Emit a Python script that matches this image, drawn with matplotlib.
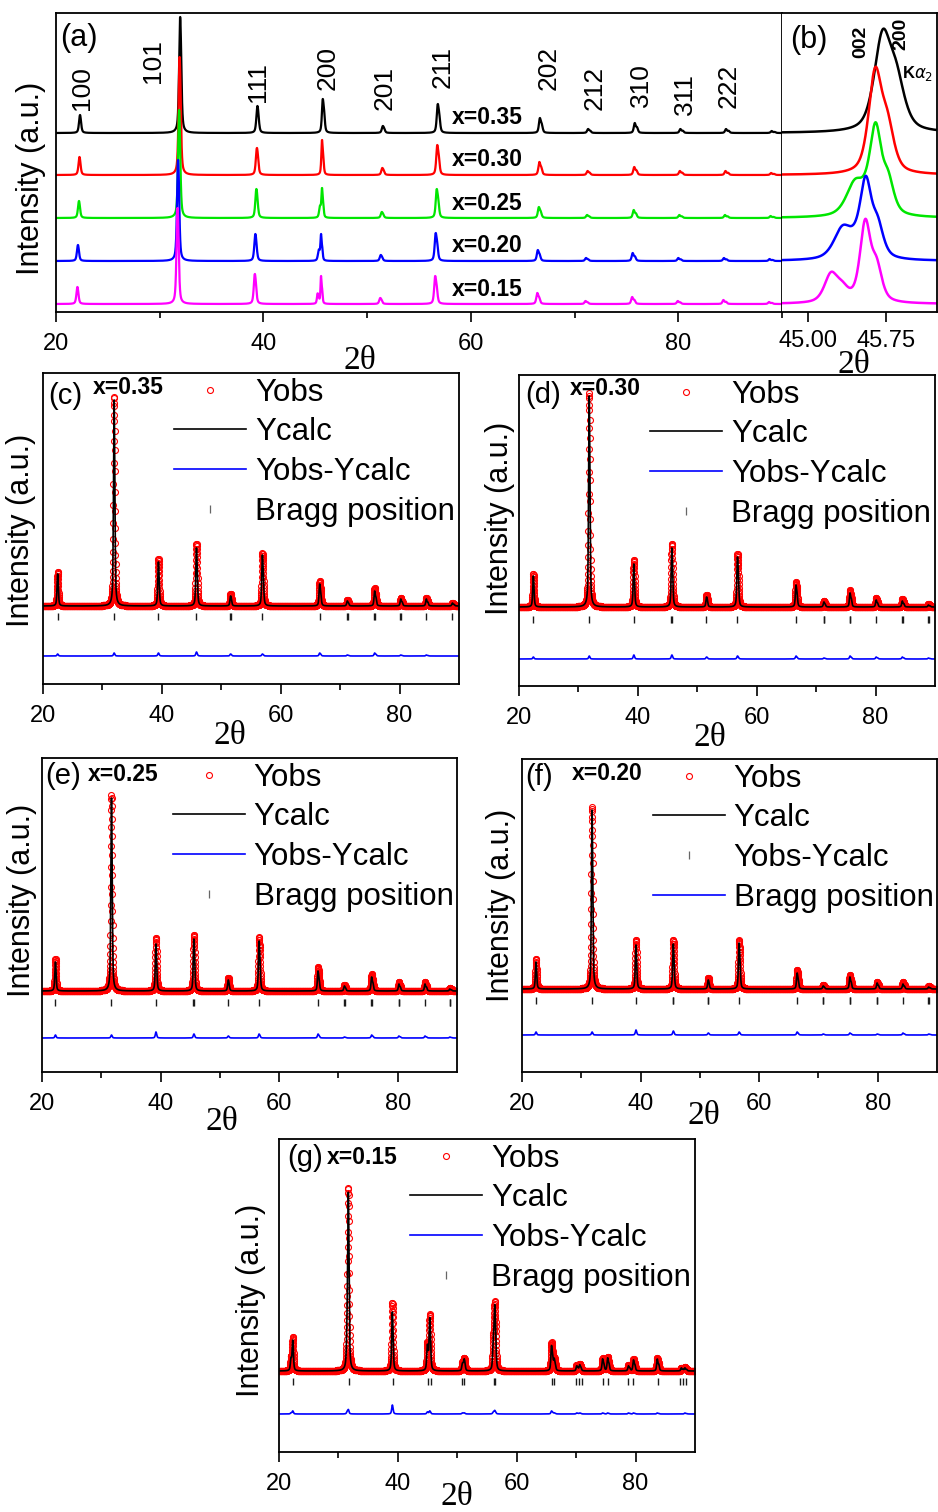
import numpy as np
import matplotlib.pyplot as plt
from matplotlib.lines import Line2D
from matplotlib.ticker import FixedLocator, FormatStrFormatter

plt.rcParams['font.family'] = ['Liberation Sans', 'DejaVu Sans']
plt.rcParams['mathtext.fontset'] = 'dejavusans'

# ---------------- data ----------------
compositions = ['x=0.35', 'x=0.30', 'x=0.25', 'x=0.20', 'x=0.15']
colors = ['black', 'red', '#00e600', 'blue', 'magenta']

# (a) full patterns: reflections and apparent peak heights of each composition
hkl = ['100', '101', '111', '200', '201', '211', '202', '212', '310', '311', '222']
two_theta = [22.3, 31.95, 39.4, 45.7, 51.5, 56.8, 66.65, 71.3, 75.8, 80.2, 84.6, 89.0]
shift = [0.0, -0.05, -0.1, -0.2, -0.25]
h_a = [
    [18, 116, 27, 34, 7, 29, 15, 4, 10, 4, 4, 2],
    [18, 118, 27, 35, 7, 30, 13, 4, 8, 4, 4, 2],
    [17, 108, 29, 30, 6, 29, 11, 3, 8, 3, 3, 2],
    [16, 101, 27, 27, 6, 28, 11, 3, 8, 3, 3, 2],
    [17, 96, 30, 28, 6, 28, 11, 3, 7, 3, 4, 2],
]

# (b) the 002/200 region: component positions, heights and widths
b_pos = [
    [45.715, 45.85],
    [45.645, 45.765],
    [45.45, 45.57, 45.65, 45.77],
    [45.33, 45.45, 45.555, 45.67],
    [45.22, 45.33, 45.55, 45.66],
]
b_h = [
    [90, 45],
    [98, 42],
    [30, 10, 80, 32],
    [28, 10, 72, 30],
    [27, 12, 78, 33],
]
b_w = [
    [0.19, 0.19],
    [0.15, 0.15],
    [0.2, 0.2, 0.13, 0.13],
    [0.2, 0.2, 0.13, 0.13],
    [0.15, 0.15, 0.12, 0.12],
]

# (c)-(g) Rietveld refinements
pos_c = [22.45, 31.95, 39.4, 45.8, 51.55, 56.9, 66.55, 71.2, 75.8, 80.2, 84.5, 88.9]
obs_c = [34, 209, 47, 62, 12, 53, 25, 6, 18, 8, 8, 3]
calc_c = [32, 206, 44, 58, 10, 51, 22, 5, 15, 7, 7, 3]
bragg_c = [22.45, 31.95, 39.4, 45.8, 51.5, 51.6, 56.9, 66.55, 71.15, 71.25,
           75.75, 75.85, 80.15, 80.25, 84.5, 88.9]

pos_d = [22.4, 31.8, 39.3, 45.7, 51.55, 56.75, 66.6, 71.3, 75.7, 80.1, 84.5, 88.9]
obs_d = [33, 214, 47, 63, 12, 53, 25, 6, 17, 9, 8, 3]
calc_d = [31, 211, 43, 59, 10, 50, 22, 5, 14, 7, 6, 2]
bragg_d = [22.4, 31.8, 39.3, 45.65, 45.75, 51.55, 56.75, 66.6, 71.25, 71.35,
           75.65, 75.75, 80.1, 84.45, 84.6, 88.85, 88.95]

pos_e = [22.25, 31.7, 39.2, 45.6, 51.4, 56.6, 66.55, 71.0, 75.6, 80.2, 84.6, 88.8]
obs_e = [32, 196, 53, 56, 13, 54, 24, 6, 17, 9, 9, 3]
calc_e = [29, 193, 47, 52, 11, 50, 20, 5, 14, 7, 7, 2]
bragg_e = [22.25, 31.7, 39.2, 45.55, 45.65, 51.4, 56.6, 66.55, 70.95, 71.05,
           75.55, 75.65, 80.15, 80.25, 84.6, 88.75, 88.85]

pos_f = [22.35, 31.8, 39.2, 45.5, 51.4, 56.6, 66.4, 70.8, 75.3, 79.9, 84.25, 88.6]
obs_f = [30, 182, 49, 49, 11, 49, 19, 4, 14, 7, 7, 3]
calc_f = [27, 179, 44, 45, 9, 46, 16, 3, 12, 6, 5, 2]
bragg_f = [22.35, 31.8, 39.2, 45.45, 45.55, 51.35, 51.45, 56.6, 66.4, 70.75, 70.85,
           75.25, 75.35, 79.85, 79.95, 84.25, 88.55, 88.65]

pos_g = [22.0, 22.3, 31.45, 31.65, 39.05, 44.95, 45.35, 50.85, 51.15, 56.05, 56.3,
         65.85, 66.3, 70.1, 70.6, 74.45, 75.3, 78.8, 79.65, 83.65, 87.7, 88.3]
obs_g = [12, 33, 30, 175, 68, 26, 55, 8, 12, 28, 61, 28, 12, 6, 7, 13, 14, 6, 12, 13, 3, 4]
calc_g = [11, 30, 28, 171, 59, 24, 52, 7, 11, 26, 58, 25, 11, 5, 6, 12, 13, 5, 11, 12, 3, 3]
bragg_g = [22.3, 31.7, 39.1, 45.05, 45.6, 50.8, 51.2, 56.15, 56.4, 65.9, 66.3,
           70.0, 70.5, 71.0, 74.5, 75.4, 78.8, 79.65, 83.7, 87.5, 88.0, 88.5]


# ---------------- profiles ----------------
def pv(x, x0, fwhm, eta=0.55):
    u = (x - x0) / fwhm
    return eta / (1 + 4 * u ** 2) + (1 - eta) * np.exp(-4 * np.log(2) * u ** 2)


def cu_peak(x, x0, fwhm):
    # Ka1 + Ka2 doublet, scaled so the drawn maximum is 1
    th = np.radians(x0 / 2)
    x2 = 2 * np.degrees(np.arcsin(min(1.0, 1.00248 * np.sin(th))))
    p = pv(x, x0, fwhm) + 0.5 * pv(x, x2, fwhm)
    return p / p.max()


def pattern(x, pos, h, fwhm):
    y = np.zeros_like(x)
    for p, a in zip(pos, h):
        y += a * cu_peak(x, p, fwhm)
    return y


def zoom_profile(x, pos, h, w):
    y = np.zeros_like(x)
    for p, a, f in zip(pos, h, w):
        y += a * pv(x, p, f)
    return y


def rect(l, t, r, b):
    return [l / 938, 1 - b / 1512, (r - l) / 938, (b - t) / 1512]


def style_x(ax, major, minor, pad=8):
    ax.set_yticks([])
    ax.xaxis.set_major_locator(FixedLocator(major))
    ax.xaxis.set_minor_locator(FixedLocator(minor))
    ax.tick_params(axis='x', which='major', direction='out', length=7, width=1.2,
                   labelsize=17, pad=pad)
    ax.tick_params(axis='x', which='minor', direction='out', length=4.5, width=1.2)
    for s in ax.spines.values():
        s.set_linewidth(1.3)


def axis_labels(ax, xl, yl=None):
    ax.text(xl[0], xl[1], '2θ', transform=ax.transAxes, ha='center', va='center',
            fontsize=24, family=['Liberation Serif', 'DejaVu Serif'])
    if yl is not None:
        ax.text(yl[0], yl[1], 'Intensity (a.u.)', transform=ax.transAxes, rotation=90,
                ha='center', va='center', fontsize=22)


fig = plt.figure(figsize=(9.38, 15.12), dpi=100)

# ---------------- (a) and (b) ----------------
axa = fig.add_axes(rect(56, 13, 782, 312))
axb = fig.add_axes(rect(782, 13, 937, 312))
offsets = [179, 137, 94, 51, 8]
xa = np.arange(20, 90.001, 0.02)
xb = np.arange(44.7, 46.3, 0.004)
i200 = hkl.index('200')
for i in range(5):
    pos = [p + shift[i] for k, p in enumerate(two_theta) if k != i200]
    hh = [v for k, v in enumerate(h_a[i]) if k != i200]
    ya = pattern(xa, pos, hh, 0.22)
    zp = zoom_profile(xa, b_pos[i], b_h[i], b_w[i])
    ya += h_a[i][i200] * zp / zp.max()
    axa.plot(xa, ya + offsets[i], color=colors[i], lw=1.6)
    axb.plot(xb, zoom_profile(xb, b_pos[i], b_h[i], b_w[i]) + offsets[i],
             color=colors[i], lw=1.8)
    axa.text(58.2, offsets[i] + 15, compositions[i], fontsize=16.5, fontweight='bold',
             va='center', ha='left')

axa.set_xlim(20, 90)
axa.set_ylim(0, 299)
style_x(axa, [20, 40, 60, 80], [30, 50, 70])

lab_x = [22.5, 29.4, 39.5, 46.2, 51.7, 57.3, 67.5, 71.95, 76.4, 80.6, 84.9]
lab_y = [202, 229, 210, 222, 202, 224, 222, 202, 205, 197, 204]
for s, lx, ly in zip(hkl, lab_x, lab_y):
    axa.text(lx, ly, s, rotation=90, ha='center', va='bottom', fontsize=19)
axa.text(0.006, 0.916, '(a)', transform=axa.transAxes, fontsize=22, va='center')
axis_labels(axa, (0.419, -0.162), (-0.034, 0.448))

axb.set_xlim(44.75, 46.24)
axb.set_ylim(0, 299)
style_x(axb, [45.0, 45.75], [44.75], pad=6)
axb.xaxis.set_major_formatter(FormatStrFormatter('%.2f'))
axb.spines['left'].set_visible(False)
axb.text(0.05, 0.91, '(b)', transform=axb.transAxes, fontsize=22, va='center')
axb.text(45.507, 254, '002', rotation=90, ha='center', va='bottom', fontsize=14,
         fontweight='bold')
axb.text(45.89, 262, '200', rotation=90, ha='center', va='bottom', fontsize=14,
         fontweight='bold')
axb.text(45.90, 238, r'K$\alpha_2$', ha='left', va='center', fontsize=12,
         fontweight='bold')
axis_labels(axb, (0.465, -0.178))

# ---------------- (c)-(g) ----------------
panels = [
    ('(c)', 0, pos_c, obs_c, calc_c, bragg_c, (43, 373, 459, 684), (78, 67, 28),
     (0.45, -0.167), (-0.053, 0.495), (0.012, 0.926), (0.12, 0.952)),
    ('(d)', 1, pos_d, obs_d, calc_d, bragg_d, (519, 375, 935, 686), (79, 67, 27),
     (0.459, -0.167), (-0.046, 0.54), (0.014, 0.936), (0.123, 0.958)),
    ('(e)', 2, pos_e, obs_e, calc_e, bragg_e, (42, 758, 457, 1072), (81, 70, 34),
     (0.434, -0.159), (-0.048, 0.548), (0.007, 0.943), (0.111, 0.946)),
    ('(f)', 3, pos_f, obs_f, calc_f, bragg_f, (522, 759, 937, 1072), (83, 72, 37),
     (0.439, -0.141), (-0.05, 0.533), (0.007, 0.942), (0.12, 0.955)),
    ('(g)', 4, pos_g, obs_g, calc_g, bragg_g, (279, 1139, 695, 1452), (81, 71, 38),
     (0.428, -0.144), (-0.067, 0.486), (0.019, 0.939), (0.115, 0.942)),
]

x = np.arange(20, 90.001, 0.02)
for tag, ci, pos, obs, calc, bragg, box, lev, xl, yl, tpos, cpos in panels:
    ax = fig.add_axes(rect(*box))
    base, tick_y, diff_y = lev
    yo = pattern(x, pos, obs, 0.24) + base
    yc = pattern(x, pos, calc, 0.24) + base
    ax.plot(x, yo, ls='none', marker='o', ms=4.3, mfc='none', mec='red', mew=0.8)
    ax.plot(x, yc, color='black', lw=1.2)
    ax.vlines(bragg, tick_y - 3.5, tick_y + 3.5, color='0.1', lw=1.0)
    ax.plot(x, yo - yc + diff_y, color='blue', lw=1.2)
    ax.set_xlim(20, 90)
    ax.set_ylim(0, box[3] - box[1])
    style_x(ax, [20, 40, 60, 80], [30, 50, 70])

    h_obs = Line2D([], [], ls='none', marker='o', ms=4.3, mfc='none', mec='red', mew=0.8)
    h_calc = Line2D([], [], color='black', lw=1.2)
    h_diff = Line2D([], [], color='blue', lw=1.2)
    h_bragg = Line2D([], [], ls='none', marker='|', ms=6, color='0.4', mew=0.9)
    if tag == '(f)':
        handles = [h_obs, h_calc, h_bragg, h_diff]
    else:
        handles = [h_obs, h_calc, h_diff, h_bragg]
    ax.legend(handles, ['Yobs', 'Ycalc', 'Yobs-Ycalc', 'Bragg position'],
              loc='upper left', bbox_to_anchor=(0.315, 0.985), frameon=False,
              fontsize=22.5, handlelength=2.3, handletextpad=0.29, labelspacing=0.31,
              borderpad=0, borderaxespad=0, numpoints=1)

    ax.text(tpos[0], tpos[1], tag, transform=ax.transAxes, fontsize=21, va='center')
    ax.text(cpos[0], cpos[1], compositions[ci], transform=ax.transAxes, fontsize=16.5,
            fontweight='bold', va='center', zorder=5)
    axis_labels(ax, xl, yl)

fig.savefig('out.png', dpi=100)
